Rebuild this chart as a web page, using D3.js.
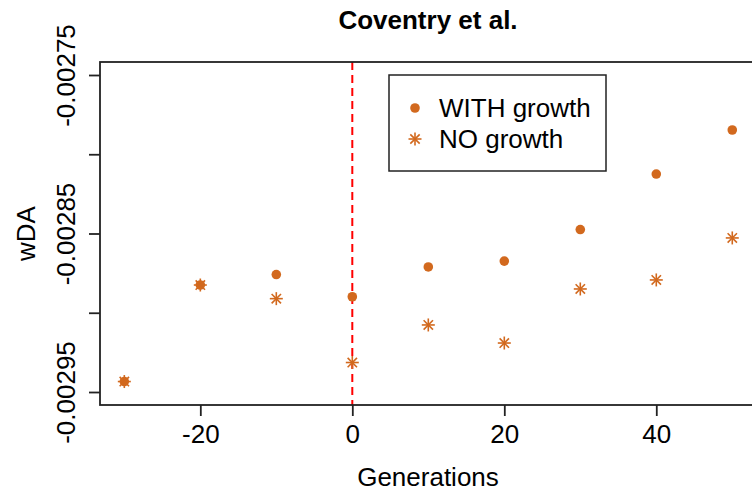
<!DOCTYPE html>
<html>
<head>
<meta charset="utf-8">
<script src="https://cdn.jsdelivr.net/npm/d3@7"></script>
<style>
  html, body { margin: 0; padding: 0; background: #fff; }
  svg { display: block; font-family: "Liberation Sans", Arial, Helvetica, sans-serif; }
</style>
</head>
<body>
<svg id="chart" width="752" height="494"></svg>
<script>
// Generations relative to the onset of growth
const generations = [-30, -20, -10, 0, 10, 20, 30, 40, 50];
// wDA with and without population growth
const withGrowth = [-0.0029434, -0.0028825, -0.0028759, -0.0028899, -0.0028711, -0.0028674, -0.0028475, -0.0028125, -0.0027847];
const noGrowth   = [-0.0029434, -0.0028825, -0.0028911, -0.0029314, -0.0029077, -0.0029191, -0.0028850, -0.0028793, -0.0028528];
const xTicks = [-20, 0, 20, 40];
const xTickLabels = ["-20", "0", "20", "40"];
const yTicks = [-0.00275, -0.0028, -0.00285, -0.0029, -0.00295];
const yTickLabels = ["-0.00275", "", "-0.00285", "", "-0.00295"];
const legendLabels = ["WITH growth", "NO growth"];

const col = "#D2691E";
const fs = 26;
const svg = d3.select("#chart");

const plot = { left: 100, top: 62, bottom: 405 };
const x = d3.scaleLinear().domain([-33.2, 53.2]).range([plot.left, 756.6]);
const y = d3.scaleLinear().domain([-0.0029582, -0.0027418]).range([plot.bottom, plot.top]);

// growth onset marker
svg.append("line")
  .attr("x1", x(0)).attr("x2", x(0))
  .attr("y1", plot.top).attr("y2", plot.bottom)
  .attr("stroke", "#ff0000").attr("stroke-width", 2)
  .attr("stroke-dasharray", "8,5");

// plot frame
svg.append("rect")
  .attr("x", plot.left).attr("y", plot.top)
  .attr("width", x.range()[1] - plot.left).attr("height", plot.bottom - plot.top)
  .attr("fill", "none").attr("stroke", "#222").attr("stroke-width", 1.8);

// x axis
const xAxis = d3.axisBottom(x).tickValues(xTicks).tickSize(11).tickFormat((d, i) => xTickLabels[i]);
const gx = svg.append("g").attr("transform", `translate(0,${plot.bottom})`).call(xAxis);
gx.select(".domain").remove();
gx.selectAll(".tick line").attr("stroke", "#222").attr("stroke-width", 1.8);
gx.selectAll(".tick text").attr("font-size", fs).attr("fill", "#000")
  .attr("font-family", "Liberation Sans, Arial, sans-serif")
  .attr("dy", null).attr("y", 38);

// y axis
const yAxis = d3.axisLeft(y).tickValues(yTicks).tickSize(11).tickFormat((d, i) => yTickLabels[i]);
const gy = svg.append("g").attr("transform", `translate(${plot.left},0)`).call(yAxis);
gy.select(".domain").remove();
gy.selectAll(".tick line").attr("stroke", "#222").attr("stroke-width", 1.8);
gy.selectAll(".tick text")
  .attr("font-size", fs).attr("fill", "#000")
  .attr("font-family", "Liberation Sans, Arial, sans-serif")
  .attr("x", null).attr("dy", null)
  .attr("text-anchor", "middle")
  .attr("transform", "translate(-25,0) rotate(-90)");

// points WITH growth (filled circles)
svg.append("g").selectAll("circle")
  .data(generations.map((g, i) => [g, withGrowth[i]]))
  .join("circle")
  .attr("cx", d => x(d[0])).attr("cy", d => y(d[1]))
  .attr("r", 4.8).attr("fill", col);

// asterisk symbol
function asterisk(sel, h) {
  const dd = h * 0.72;
  sel.append("line").attr("x1", -h).attr("x2", h).attr("y1", 0).attr("y2", 0);
  sel.append("line").attr("x1", 0).attr("x2", 0).attr("y1", -h).attr("y2", h);
  sel.append("line").attr("x1", -dd).attr("x2", dd).attr("y1", -dd).attr("y2", dd);
  sel.append("line").attr("x1", -dd).attr("x2", dd).attr("y1", dd).attr("y2", -dd);
}

// points with NO growth (asterisks)
svg.append("g").selectAll("g")
  .data(generations.map((g, i) => [g, noGrowth[i]]))
  .join("g")
  .attr("transform", d => `translate(${x(d[0])},${y(d[1])})`)
  .attr("stroke", col).attr("stroke-width", 1.6)
  .each(function () { asterisk(d3.select(this), 6.5); });

// legend
const lg = svg.append("g");
lg.append("rect").attr("x", 389).attr("y", 75).attr("width", 217).attr("height", 96)
  .attr("fill", "#fff").attr("stroke", "#222").attr("stroke-width", 1.5);
lg.append("circle").attr("cx", 415).attr("cy", 108).attr("r", 4.8).attr("fill", col);
lg.append("g").attr("transform", "translate(415,139)")
  .attr("stroke", col).attr("stroke-width", 1.6)
  .call(s => asterisk(s, 6.5));
lg.selectAll("text").data(legendLabels).join("text")
  .attr("x", 439).attr("y", (d, i) => 117 + i * 31)
  .attr("font-size", fs).attr("fill", "#000")
  .text(d => d);

// title and axis titles
svg.append("text").attr("x", 428).attr("y", 29).attr("text-anchor", "middle")
  .attr("font-size", fs).attr("font-weight", "bold").text("Coventry et al.");
svg.append("text").attr("x", 428).attr("y", 486).attr("text-anchor", "middle")
  .attr("font-size", fs).text("Generations");
svg.append("text").attr("transform", `translate(35,${(plot.top + plot.bottom) / 2}) rotate(-90)`)
  .attr("text-anchor", "middle").attr("font-size", fs).text("wDA");
</script>
</body>
</html>
